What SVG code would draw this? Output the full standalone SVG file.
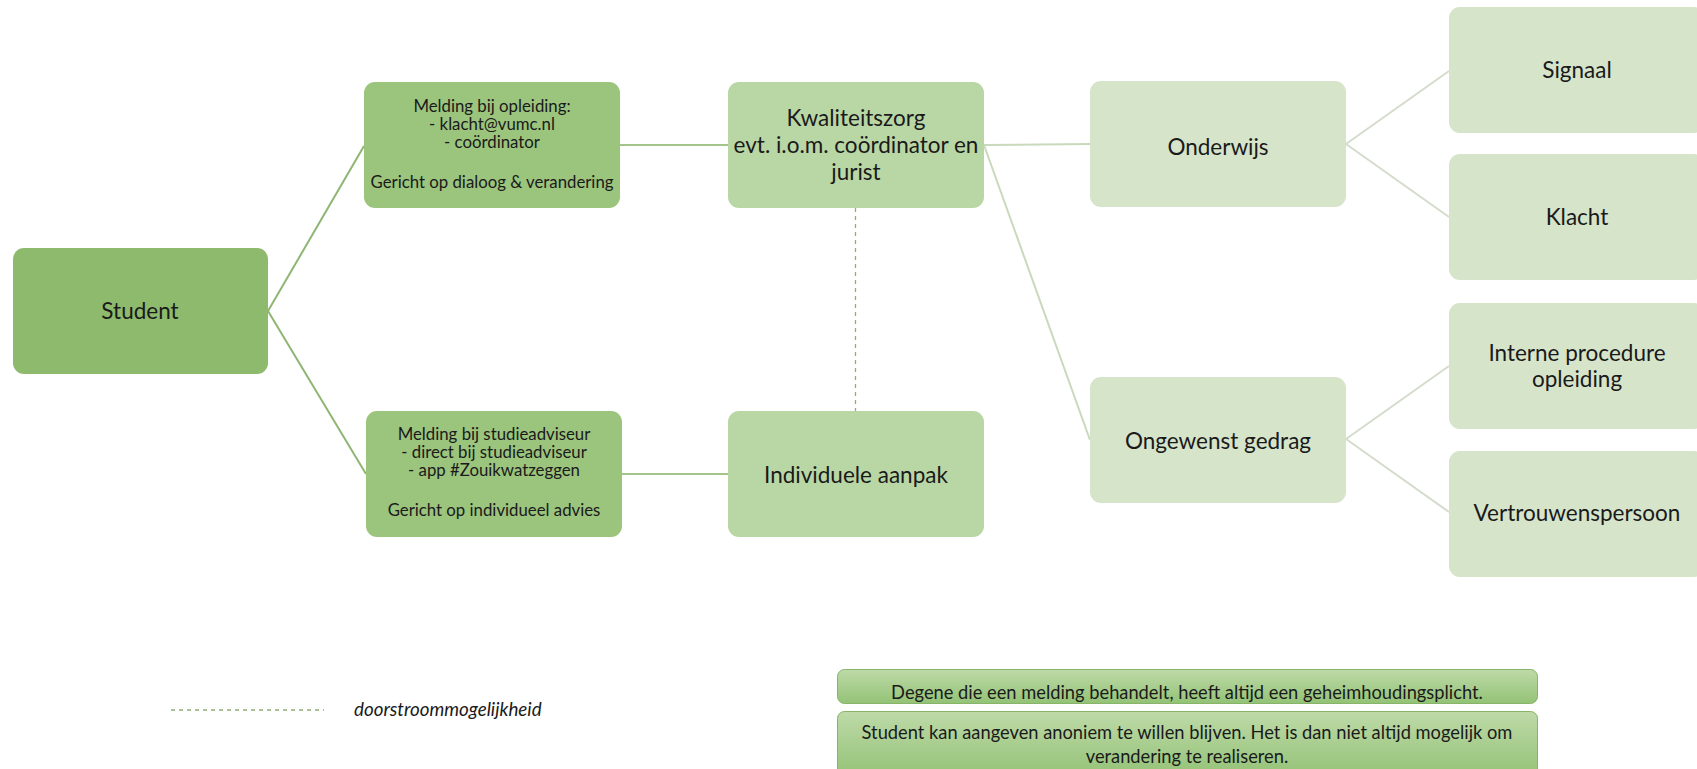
<svg xmlns="http://www.w3.org/2000/svg" width="1697" height="769" viewBox="0 0 1697 769">
<style>
text{font-family:Lato,"Liberation Sans",sans-serif;fill:#1a1a1a;text-anchor:middle}
.big{font-size:22.5px}
.med{font-size:16.8px}
.note{font-size:18.3px}
.leg{font-size:18.8px;font-style:italic;text-anchor:start}
.n1{fill:#8dba6c}
.n2{fill:#9bc47d}
.n3{fill:#b9d6a5}
.n4{fill:#d6e4ca}
.nb{fill:url(#g);stroke:#86b567;stroke-width:1}
.c1{stroke:#8fb573;stroke-width:2;fill:none}
.c2{stroke:#a3c48b;stroke-width:2;fill:none}
.c3{stroke:#c9d9bc;stroke-width:2;fill:none}
.c4{stroke:#d4dccc;stroke-width:2;fill:none}
.dash{stroke:#8fae78;stroke-width:1.3;stroke-dasharray:4 4;fill:none}
</style>
<defs>
<linearGradient id="g" x1="0" y1="0" x2="0" y2="1">
<stop offset="0" stop-color="#bedaa8"/>
<stop offset="1" stop-color="#93c276"/>
</linearGradient>
</defs>
<rect width="1697" height="769" fill="#ffffff"/>
<g id="connectors">
<line class="c1" x1="268" y1="311" x2="364" y2="146"/>
<line class="c1" x1="268" y1="311" x2="366" y2="474"/>
<line class="c2" x1="620" y1="145" x2="728" y2="145"/>
<line class="c2" x1="621" y1="474" x2="728" y2="474"/>
<line class="c3" x1="984" y1="145" x2="1090" y2="144"/>
<line class="c3" x1="984" y1="145" x2="1090" y2="440"/>
<line class="c4" x1="1346" y1="144" x2="1449" y2="71"/>
<line class="c4" x1="1346" y1="144" x2="1449" y2="217"/>
<line class="c4" x1="1346" y1="439" x2="1449" y2="366"/>
<line class="c4" x1="1346" y1="439" x2="1449" y2="512"/>
<line class="dash" x1="855.5" y1="208" x2="855.5" y2="411"/>
</g>
<g id="student">
<rect class="n1" x="13" y="248" width="255" height="126" rx="11"/>
<text class="big" x="140" y="319">Student</text>
</g>
<g id="melding-opleiding">
<rect class="n2" x="364" y="82" width="256" height="126" rx="11"/>
<text class="med" x="492" y="112">Melding bij opleiding:</text>
<text class="med" x="492" y="130">- klacht@vumc.nl</text>
<text class="med" x="492" y="148">- coördinator</text>
<text class="med" x="492" y="188">Gericht op dialoog &amp; verandering</text>
</g>
<g id="melding-studieadviseur">
<rect class="n2" x="366" y="411" width="256" height="126" rx="11"/>
<text class="med" x="494" y="440">Melding bij studieadviseur</text>
<text class="med" x="494" y="458">- direct bij studieadviseur</text>
<text class="med" x="494" y="476">- app #Zouikwatzeggen</text>
<text class="med" x="494" y="516">Gericht op individueel advies</text>
</g>
<g id="kwaliteitszorg">
<rect class="n3" x="728" y="82" width="256" height="126" rx="11"/>
<text class="big" x="856" y="126">Kwaliteitszorg</text>
<text class="big" x="856" y="153">evt. i.o.m. coördinator en</text>
<text class="big" x="856" y="180">jurist</text>
</g>
<g id="individuele-aanpak">
<rect class="n3" x="728" y="411" width="256" height="126" rx="11"/>
<text class="big" x="856" y="483">Individuele aanpak</text>
</g>
<g id="onderwijs">
<rect class="n4" x="1090" y="81" width="256" height="126" rx="11"/>
<text class="big" x="1218" y="155">Onderwijs</text>
</g>
<g id="ongewenst-gedrag">
<rect class="n4" x="1090" y="377" width="256" height="126" rx="11"/>
<text class="big" x="1218" y="449">Ongewenst gedrag</text>
</g>
<g id="signaal">
<rect class="n4" x="1449" y="7" width="256" height="126" rx="11"/>
<text class="big" x="1577" y="78">Signaal</text>
</g>
<g id="klacht">
<rect class="n4" x="1449" y="154" width="256" height="126" rx="11"/>
<text class="big" x="1577" y="225">Klacht</text>
</g>
<g id="interne-procedure">
<rect class="n4" x="1449" y="303" width="256" height="126" rx="11"/>
<text class="big" x="1577" y="361">Interne procedure</text>
<text class="big" x="1577" y="387">opleiding</text>
</g>
<g id="vertrouwenspersoon">
<rect class="n4" x="1449" y="451" width="256" height="126" rx="11"/>
<text class="big" x="1577" y="521">Vertrouwenspersoon</text>
</g>
<g id="legend">
<line class="dash" x1="171" y1="710" x2="324" y2="710"/>
<text class="leg" x="354" y="716">doorstroommogelijkheid</text>
</g>
<g id="note-geheimhouding">
<rect class="nb" x="837.5" y="669.5" width="700" height="34" rx="7"/>
<text class="note" x="1187" y="699">Degene die een melding behandelt, heeft altijd een geheimhoudingsplicht.</text>
</g>
<g id="note-anoniem">
<rect class="nb" x="837.5" y="711.5" width="700" height="66" rx="7"/>
<text class="note" x="1187" y="739">Student kan aangeven anoniem te willen blijven. Het is dan niet altijd mogelijk om</text>
<text class="note" x="1187" y="763">verandering te realiseren.</text>
</g>
</svg>
